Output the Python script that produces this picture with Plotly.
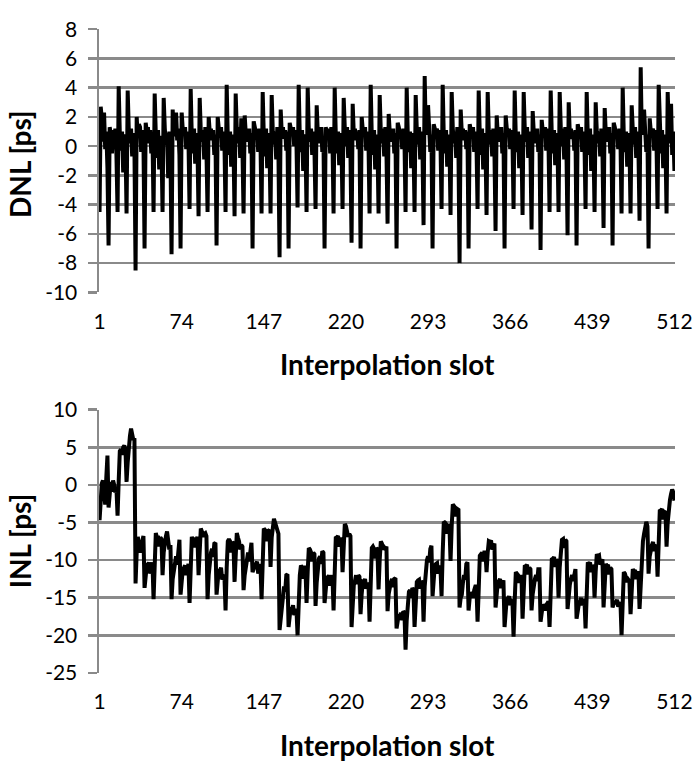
import plotly.graph_objects as go

slots = list(range(1, 513))
x_tick_vals = [1, 74, 147, 220, 293, 366, 439, 512]
dnl_ticks = [-10, -8, -6, -4, -2, 0, 2, 4, 6, 8]
dnl_tick_text = ["-10", "-8", "-6", "-4", "-2", "0", "2", "4", "6", "8"]
inl_ticks = [-25, -20, -15, -10, -5, 0, 5, 10]
inl_tick_text = ["-25", "-20", "-15", "-10", "-5", "0", "5", "10"]

# DNL [ps], one row per 8 interpolation slots
dnl = [
    -4.5, 2.7, 1.9, 0.3, 2.3, -0.2, 1.0, -1.5,
    -6.8, 1.3, 0.8, -0.5, 1.1, 0.2, 1.2, -0.6,
    -4.5, 4.1, 0.9, -0.3, 1.0, -1.8, 0.8, 0.4,
    -4.6, 3.8, 1.1, 0.2, 1.2, -0.7, 0.9, -0.2,
    -8.5, 2.0, 0.6, 1.5, 1.3, -0.4, 1.1, 0.3,
    -7.0, 1.6, 1.0, 1.3, 0.2, 1.1, -0.5, 0.9,
    -4.5, 3.6, 0.8, -0.8, 1.1, -1.6, 0.7, 0.2,
    -4.5, 3.3, 1.2, 0.1, 0.9, -2.2, 1.0, -0.4,
    -7.4, 2.5, 0.7, 1.0, 2.3, 0.4, 1.2, -0.6,
    -7.0, 2.3, 1.1, 0.8, 1.3, -0.2, 1.0, 0.5,
    -4.3, 3.9, 0.6, -0.5, 1.2, -1.2, 0.9, 0.1,
    -4.8, 3.3, 1.0, 0.3, 1.1, -0.9, 1.3, -0.3,
    -4.5, 2.0, 0.9, 1.2, 0.4, 1.1, -0.6, 0.8,
    -6.8, 2.0, 1.2, 0.6, 1.3, -0.3, 1.0, 0.2,
    -4.5, 4.2, 0.5, -0.6, 1.0, -1.4, 0.8, 0.3,
    -4.8, 3.6, 1.1, 0.2, 1.3, -0.8, 1.9, -0.2,
    -4.6, 2.1, 0.8, 1.0, 0.3, 1.2, -0.5, 0.9,
    -7.0, 1.7, 1.3, 0.9, 1.1, -0.4, 1.2, 0.4,
    -4.6, 3.7, 0.7, -0.7, 1.2, -1.5, 0.9, 0.2,
    -4.6, 3.5, 1.0, 0.1, 1.0, -0.9, 1.3, -0.5,
    -7.6, 2.5, 0.8, 1.3, 0.5, 1.1, -0.3, 1.0,
    -7.0, 1.6, 1.2, 0.7, 1.3, 0.0, 1.1, 0.3,
    -4.2, 4.2, 0.6, -0.4, 1.1, -1.7, 0.8, 0.4,
    -4.5, 4.0, 1.1, 0.3, 1.2, -0.6, 1.0, -0.2,
    -4.3, 2.8, 0.9, 1.1, 0.2, 1.3, -0.4, 0.7,
    -7.0, 1.3, 1.0, 0.8, 1.2, -0.5, 1.3, 0.5,
    -4.6, 4.0, 0.7, -0.5, 1.0, -1.3, 0.9, 0.2,
    -4.3, 3.3, 1.2, 0.0, 1.3, -0.8, 1.1, -0.4,
    -6.6, 2.9, 0.8, 1.2, 0.4, 1.0, -0.2, 1.1,
    -7.0, 2.0, 1.1, 0.9, 1.3, -0.3, 1.0, 0.4,
    -4.6, 4.2, 0.6, -0.6, 1.1, -1.6, 0.8, 0.3,
    -4.6, 3.5, 1.0, 0.2, 1.2, -0.7, 1.3, -0.3,
    -5.3, 2.2, 0.9, 1.0, 0.3, 1.2, -0.5, 0.9,
    -7.0, 1.6, 1.3, 0.8, 1.1, -0.2, 1.2, 0.5,
    -4.5, 4.0, 0.7, -0.4, 1.0, -1.5, 0.9, 0.2,
    -4.5, 3.5, 1.1, 0.1, 1.3, -0.9, 1.0, -0.2,
    -5.4, 4.8, 0.8, 1.1, 2.8, 1.2, -0.4, 0.8,
    -7.0, 1.5, 1.0, 0.9, 1.2, -0.3, 1.1, 0.4,
    -4.3, 4.2, 0.6, -0.5, 1.1, -1.4, 0.8, 0.3,
    -4.7, 3.7, 1.2, 0.2, 1.0, -0.8, 1.3, -0.3,
    -8.0, 2.5, 0.9, 1.2, 0.4, 1.1, -0.2, 1.0,
    -7.0, 1.5, 1.1, 0.7, 1.3, -0.4, 1.0, 0.3,
    -4.3, 3.8, 0.7, -0.6, 1.2, -1.6, 0.9, 0.2,
    -4.7, 3.7, 1.0, 0.1, 1.1, -0.7, 1.2, -0.4,
    -5.8, 2.1, 0.8, 1.0, 0.3, 1.3, -0.5, 0.9,
    -7.0, 2.1, 1.2, 0.8, 1.2, -0.2, 1.1, 0.5,
    -4.3, 3.8, 0.6, -0.4, 1.0, -1.5, 0.8, 0.2,
    -4.7, 3.7, 1.1, 0.3, 1.3, -0.8, 1.0, -0.3,
    -5.7, 2.4, 0.9, 1.1, 0.2, 1.2, -0.4, 0.8,
    -7.1, 1.8, 1.0, 0.9, 1.3, -0.3, 1.2, 0.4,
    -4.5, 3.8, 0.7, -0.5, 1.1, -1.3, 0.9, 0.3,
    -4.5, 3.7, 1.2, 0.0, 1.2, -0.9, 1.3, -0.2,
    -6.1, 3.0, 0.8, 1.2, 0.5, 1.0, -0.3, 1.1,
    -6.8, 1.5, 1.1, 0.7, 1.3, -0.4, 1.0, 0.3,
    -4.3, 3.7, 0.6, -0.6, 1.2, -1.7, 0.8, 0.2,
    -4.5, 3.0, 1.0, 0.2, 1.0, -0.7, 1.2, -0.4,
    -5.6, 2.6, 0.9, 1.0, 0.3, 1.3, -0.5, 0.9,
    -6.8, 1.6, 1.3, 0.8, 1.1, -0.2, 1.2, 0.5,
    -4.6, 4.0, 0.7, -0.4, 1.0, -1.4, 0.9, 0.2,
    -4.6, 2.8, 1.1, 0.1, 1.3, -0.8, 1.0, -0.3,
    -5.1, 5.4, 0.8, 1.1, 2.5, 1.2, -0.4, 0.8,
    -7.0, 1.9, 1.0, 0.9, 1.2, -0.3, 1.1, 0.4,
    -4.3, 4.2, 0.6, -0.5, 1.1, -1.5, 0.8, 0.3,
    -4.6, 3.7, 1.2, 0.2, 2.9, -0.6, 1.0, -1.7,
]

# INL [ps], one row per 8 interpolation slots
inl = [
    -4.7, -0.5, 0.2, 0.6, -1.0, -2.6, 1.0, 3.9,
    -3.0, -1.0, 0.4, -0.9, 0.6, 0.0, -1.0, -0.5,
    -4.1, 0.5, 4.5, 4.7, 4.0, 5.0, 5.2, 4.8,
    0.4, 3.0, 5.2, 6.5, 7.5, 6.5, 6.0, 6.2,
    -13.1, -9.0, -6.9, -8.0, -9.0, -8.0, -7.0, -6.8,
    -13.7, -11.5, -10.7, -10.8, -10.3, -11.8, -10.5, -10.3,
    -15.2, -10.0, -6.4, -7.0, -6.8, -8.2, -7.0, -7.2,
    -12.0, -9.0, -7.3, -6.8, -6.2, -7.5, -8.6, -8.0,
    -15.2, -12.5, -11.2, -10.0, -9.5, -10.6, -8.2, -7.3,
    -14.6, -12.0, -11.2, -11.0, -10.7, -12.0, -10.8, -10.5,
    -15.7, -10.5, -6.9, -7.5, -7.0, -8.3, -7.2, -6.9,
    -12.0, -8.5, -5.8, -6.2, -6.9, -6.5, -6.4, -6.8,
    -15.2, -12.0, -9.9, -9.0, -8.5, -9.6, -7.8, -7.7,
    -14.6, -12.5, -11.2, -11.5, -11.0, -12.6, -12.0, -12.2,
    -16.7, -11.0, -7.5, -7.2, -7.5, -9.0, -7.6, -7.8,
    -12.9, -9.5, -6.4, -7.0, -7.5, -8.6, -8.0, -8.2,
    -14.0, -12.0, -10.7, -10.0, -9.0, -10.2, -8.0, -7.7,
    -11.6, -11.0, -10.7, -10.5, -10.2, -11.8, -10.8, -10.5,
    -15.2, -10.0, -5.8, -6.0, -6.2, -7.5, -6.1, -6.0,
    -10.9, -7.0, -5.0, -4.5, -5.0, -5.5, -6.0, -6.5,
    -19.3, -17.5, -16.3, -15.0, -13.5, -14.2, -12.0, -11.9,
    -18.9, -17.5, -16.3, -16.5, -16.0, -17.3, -16.7, -16.5,
    -20.0, -15.0, -12.0, -10.7, -11.0, -12.5, -11.0, -11.0,
    -15.7, -11.5, -8.4, -8.6, -9.0, -10.2, -9.0, -9.2,
    -16.1, -13.0, -10.3, -9.8, -9.5, -10.5, -8.8, -9.0,
    -15.7, -13.5, -12.4, -12.5, -12.0, -13.4, -12.2, -12.0,
    -16.7, -11.0, -6.9, -7.0, -6.8, -8.2, -7.2, -7.0,
    -11.6, -8.0, -5.2, -5.5, -6.0, -6.9, -6.5, -6.8,
    -18.9, -15.5, -13.3, -12.8, -12.0, -13.2, -12.0, -12.2,
    -17.2, -14.5, -12.9, -13.0, -12.5, -13.8, -13.2, -13.0,
    -18.2, -12.5, -8.4, -8.2, -8.5, -9.8, -8.4, -8.6,
    -13.9, -10.0, -7.5, -7.8, -8.6, -8.3, -8.5, -8.2,
    -16.8, -14.5, -13.5, -12.9, -12.5, -13.6, -12.5, -12.4,
    -19.1, -17.8, -17.2, -17.5, -17.0, -18.0, -16.8, -17.0,
    -21.9, -18.0, -14.6, -14.2, -14.0, -15.0, -13.7, -14.0,
    -18.9, -15.0, -12.9, -12.7, -12.6, -13.8, -12.8, -13.0,
    -18.2, -13.5, -10.7, -10.0, -9.5, -10.3, -8.5, -8.1,
    -14.8, -12.5, -10.7, -10.5, -10.4, -11.8, -10.8, -11.0,
    -14.8, -9.0, -4.9, -5.0, -5.2, -6.5, -5.3, -5.5,
    -10.1, -5.5, -2.6, -2.8, -3.0, -4.2, -3.2, -3.3,
    -16.3, -15.0, -14.6, -13.0, -12.0, -12.6, -10.5, -10.3,
    -16.7, -15.0, -14.3, -14.5, -15.0, -14.0, -13.5, -13.5,
    -18.2, -14.0, -9.4, -9.2, -9.0, -10.2, -9.0, -9.0,
    -11.6, -9.0, -7.5, -7.6, -7.4, -8.6, -8.0, -7.8,
    -16.3, -14.0, -12.9, -12.8, -12.5, -13.7, -12.8, -12.7,
    -18.9, -16.5, -15.0, -15.2, -14.8, -16.0, -15.4, -15.5,
    -20.2, -15.5, -11.6, -11.8, -12.0, -13.0, -12.2, -12.0,
    -17.8, -13.5, -10.7, -10.8, -10.6, -11.9, -11.0, -11.2,
    -16.7, -14.5, -13.3, -12.5, -12.0, -12.8, -11.2, -11.2,
    -18.2, -16.5, -15.9, -16.2, -16.7, -16.0, -15.8, -15.5,
    -18.9, -14.0, -9.9, -9.8, -9.6, -10.9, -9.9, -10.2,
    -15.0, -11.0, -8.5, -7.3, -7.2, -8.4, -7.3, -7.5,
    -16.5, -14.5, -13.3, -12.5, -12.0, -12.8, -11.4, -11.2,
    -17.8, -16.5, -15.9, -15.5, -15.0, -16.0, -15.5, -15.2,
    -19.1, -14.0, -10.3, -10.5, -10.3, -11.6, -10.7, -10.9,
    -15.0, -11.5, -9.2, -9.5, -9.4, -10.6, -10.0, -9.9,
    -16.3, -12.5, -10.5, -10.8, -10.6, -11.9, -11.0, -11.2,
    -16.3, -15.8, -15.7, -15.6, -15.3, -16.2, -15.9, -15.6,
    -20.0, -15.0, -11.6, -11.8, -12.2, -12.9, -12.6, -12.8,
    -17.2, -13.5, -11.2, -11.5, -11.3, -12.5, -11.8, -11.5,
    -16.5, -12.5, -8.6, -7.5, -6.5, -5.5, -4.9, -5.5,
    -11.8, -9.5, -8.2, -8.0, -7.6, -8.8, -8.2, -8.0,
    -12.2, -7.0, -3.3, -3.4, -3.2, -4.6, -3.6, -3.5,
    -8.2, -5.0, -2.8, -2.0, -1.2, -0.6, -1.0, -2.1,
]

W, H = 696, 770
ML, MR = 99, 21
FONT = "Lato"
GRID = "#8a8a8a"
LW = 4

fig = go.Figure()
fig.add_trace(go.Scatter(x=slots, y=dnl, mode="lines",
                         line=dict(color="black", width=LW),
                         xaxis="x", yaxis="y", showlegend=False, hoverinfo="skip"))
fig.add_trace(go.Scatter(x=slots, y=inl, mode="lines",
                         line=dict(color="black", width=LW),
                         xaxis="x2", yaxis="y2", showlegend=False, hoverinfo="skip"))

def yfrac(px):
    return 1 - px / H

xcommon = dict(range=[0.5, 512.5], tickmode="array", tickvals=x_tick_vals,
               ticktext=[str(v) for v in x_tick_vals], showgrid=False, zeroline=False,
               showline=False, ticks="outside", ticklen=10, tickcolor="rgba(0,0,0,0)",
               tickfont=dict(family=FONT, size=21, color="black"))
ycommon = dict(showgrid=True, gridcolor=GRID, gridwidth=2.5, zeroline=False,
               showline=True, linecolor=GRID, linewidth=2.5, ticks="outside",
               ticklen=9, tickwidth=2.5, tickcolor=GRID,
               tickfont=dict(family=FONT, size=21, color="black"),
               ticklabelstandoff=6)

fig.update_layout(
    width=W, height=H,
    margin=dict(l=ML, r=MR, t=0, b=0),
    paper_bgcolor="white", plot_bgcolor="white",
    xaxis=dict(domain=[0, 1], anchor="y", **xcommon),
    xaxis2=dict(domain=[0, 1], anchor="y2", **xcommon),
    yaxis=dict(domain=[yfrac(287.7), yfrac(15.7)], anchor="x", range=[-10, 8],
               tickvals=dnl_ticks, ticktext=dnl_tick_text, **ycommon),
    yaxis2=dict(domain=[yfrac(681), yfrac(409)], anchor="x2", range=[-25, 10],
                tickvals=inl_ticks, ticktext=inl_tick_text, **ycommon),
)

pw = W - ML - MR
def xfrac(px):
    return (px - ML) / pw

title_font = dict(family=FONT, size=28, color="black")
fig.add_annotation(text="<b>DNL [ps]</b>", xref="paper", yref="paper",
                   x=xfrac(20), y=yfrac(155), textangle=-90, showarrow=False,
                   xanchor="center", yanchor="middle", font=title_font)
fig.add_annotation(text="<b>INL [ps]</b>", xref="paper", yref="paper",
                   x=xfrac(20), y=yfrac(545), textangle=-90, showarrow=False,
                   xanchor="center", yanchor="middle", font=title_font)
fig.add_annotation(text="<b>Interpolation slot</b>", xref="paper", yref="paper",
                   x=xfrac(387.4), y=yfrac(362), showarrow=False,
                   xanchor="center", yanchor="middle", font=title_font)
fig.add_annotation(text="<b>Interpolation slot</b>", xref="paper", yref="paper",
                   x=xfrac(387.4), y=yfrac(756), showarrow=False,
                   xanchor="center", yanchor="middle", font=title_font)

fig.write_html(
    "out.html",
    config={"displayModeBar": False, "staticPlot": True},
    post_script="document.body.style.margin='0';document.body.style.overflow='hidden';",
)
